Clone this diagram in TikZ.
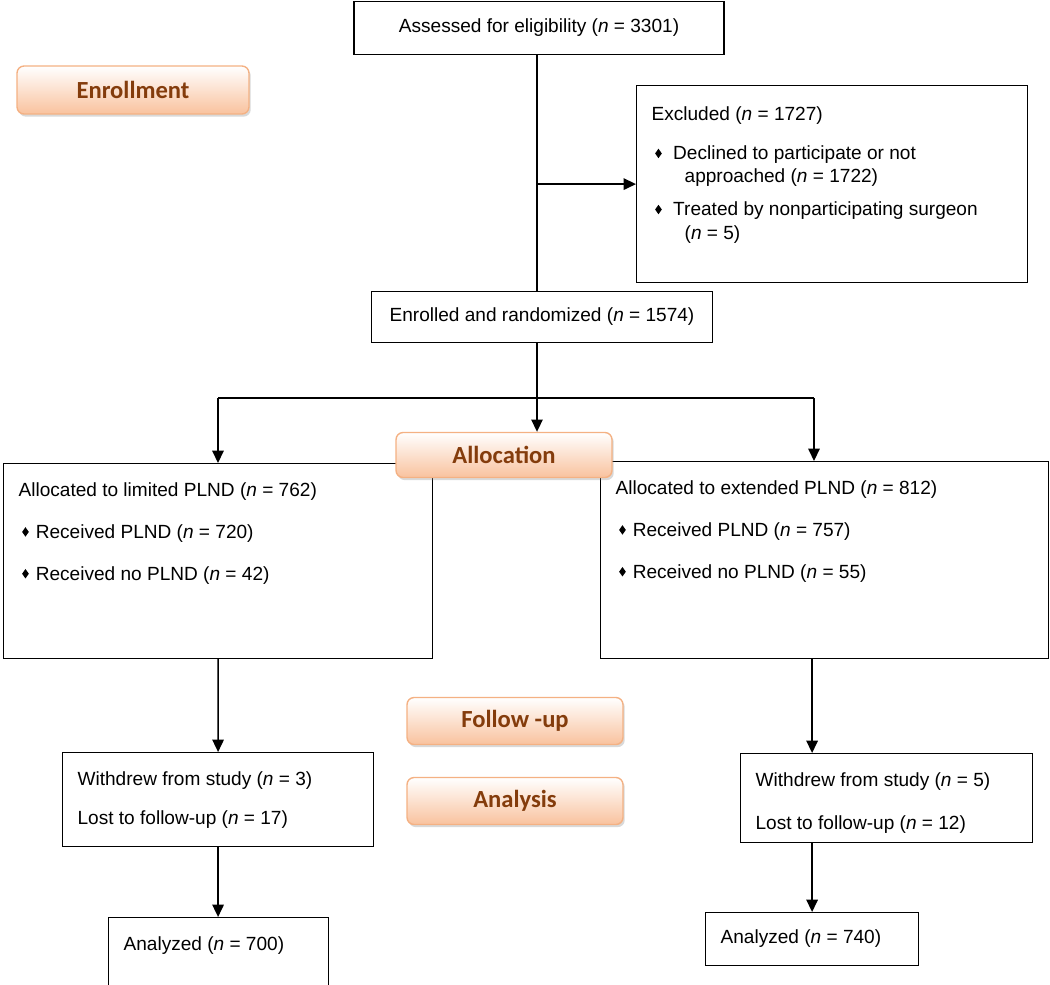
\documentclass[tikz,border=0pt]{standalone}
\usepackage{fontspec}
\setmainfont{Liberation Sans}
\newfontfamily\phasefont{Carlito}
\usetikzlibrary{arrows.meta,shadows}
\definecolor{phaseedge}{RGB}{244,177,131}
\definecolor{phasefill}{RGB}{249,194,158}
\definecolor{phasetext}{RGB}{132,60,12}
\newcommand{\bul}{\tikz[baseline=-3.6pt]\fill (0,2.7pt) -- (1.9pt,0) -- (0,-2.7pt) -- (-1.9pt,0) -- cycle;}

\begin{document}
\begin{tikzpicture}[x=0.02cm,y=-0.02cm,
    box/.style={draw,line width=0.7pt,anchor=north west,inner xsep=0.3cm,inner ysep=0.38cm,font=\fontsize{10.85}{13.2}\selectfont},
    cbox/.style={draw,line width=0.7pt,inner sep=0pt,font=\fontsize{10.85}{13.2}\selectfont},
    phase/.style={draw=phaseedge,line width=0.8pt,rounded corners=4pt,top color=white,bottom color=phasefill,
        drop shadow={shadow xshift=1pt,shadow yshift=-1.5pt,opacity=0.3},text=phasetext,
        font=\phasefont\bfseries\fontsize{14}{16}\selectfont,inner sep=0pt},
    link/.style={line width=0.8pt},
    arr/.style={-{Triangle[length=7pt,width=6.5pt]}}]
    \useasboundingbox (0,0) rectangle (1050,984);
    % % ----- boxes ----- % %
    \node[cbox,minimum width=7.4cm,minimum height=1.06cm] (assess) at (539,28) {Assessed for eligibility (\textit{n} = 3301)};
    \node[box,inner ysep=0.42cm] (excl) at (636,85) {\parbox[t][3.1cm][t]{7.22cm}{Excluded (\textit{n} = 1727)\\[9.2pt]
        \hspace*{2pt}\bul\hspace{6.5pt}Declined to participate or not\\
        \hspace*{18.8pt}approached (\textit{n} = 1722)\\[5.5pt]
        \hspace*{2pt}\bul\hspace{6.5pt}Treated by nonparticipating surgeon\\
        \hspace*{18.8pt}(\textit{n} = 5)}};
    \node[cbox,minimum width=6.82cm,minimum height=1.02cm] (enrol) at (542,317) {Enrolled and randomized (\textit{n} = 1574)};
    \node[box] (limited) at (3,463) {\parbox[t][3.14cm][t]{7.98cm}{Allocated to limited PLND (\textit{n} = 762)\\[10.6pt]
        \hspace*{2pt}\bul\hspace{4pt}Received PLND (\textit{n} = 720)\\[10.6pt]
        \hspace*{2pt}\bul\hspace{4pt}Received no PLND (\textit{n} = 42)}};
    \node[box] (extended) at (600,461) {\parbox[t][3.18cm][t]{8.36cm}{Allocated to extended PLND (\textit{n} = 812)\\[10.6pt]
        \hspace*{2pt}\bul\hspace{4pt}Received PLND (\textit{n} = 757)\\[10.6pt]
        \hspace*{2pt}\bul\hspace{4pt}Received no PLND (\textit{n} = 55)}};
    \node[box] (lwd) at (62,752) {\parbox[t][1.12cm][t]{5.62cm}{Withdrew from study (\textit{n} = 3)\\[9pt]Lost to follow-up (\textit{n} = 17)}};
    \node[box] (rwd) at (740,753) {\parbox[t][1.02cm][t]{5.24cm}{Withdrew from study (\textit{n} = 5)\\[11.2pt]Lost to follow-up (\textit{n} = 12)}};
    \node[box] (lanal) at (108,917) {\parbox[t][0.84cm][t]{3.8cm}{Analyzed (\textit{n} = 700)}};
    \node[box,inner ysep=0.34cm] (ranal) at (705,912) {\parbox[t][0.38cm][t]{3.66cm}{Analyzed (\textit{n} = 740)}};
    % % ----- phases ----- % %
    \node[phase,minimum width=4.64cm,minimum height=0.96cm] (enrolment) at (133,90) {Enrollment};
    \node[phase,minimum width=4.32cm,minimum height=0.9cm] (allocation) at (504,455) {Allocation};
    \node[phase,minimum width=4.32cm,minimum height=0.94cm] (followup) at (515,721) {Follow -up};
    \node[phase,minimum width=4.32cm,minimum height=0.94cm] (analysis) at (515,801) {Analysis};
    % % ----- lines ----- % %
    \coordinate (split) at (537,398);
    \coordinate (lsplit) at (218,398);
    \coordinate (rsplit) at (814,398);
    \draw[link] (split |- assess.south) -- (split |- enrol.north);      % assess-enrol
    \draw[link,arr] (split |- excl.west) -- (excl.west);                % excluded
    \draw[link] (split |- enrol.south) -- (split);                      % enrol-split
    \draw[link] (lsplit) -- (rsplit);                                   % split bar
    \draw[link,arr] (split) -- (allocation.north -| split);             % allocation
    \draw[link,arr] (lsplit) -- (limited.north -| lsplit);              % limited
    \draw[link,arr] (rsplit) -- (extended.north -| rsplit);             % extended
    \draw[link,arr] (limited) -- (lwd);                                 % limited-withdrew
    \draw[link,arr] (lwd.south) -- (lwd.south |- lanal.north);          % withdrew-analyzed
    \draw[link,arr] (ranal.north |- extended.south) -- (ranal.north |- rwd.north);  % extended-withdrew
    \draw[link,arr] (ranal.north |- rwd.south) -- (ranal.north);       % withdrew-analyzed
\end{tikzpicture}
\end{document}
